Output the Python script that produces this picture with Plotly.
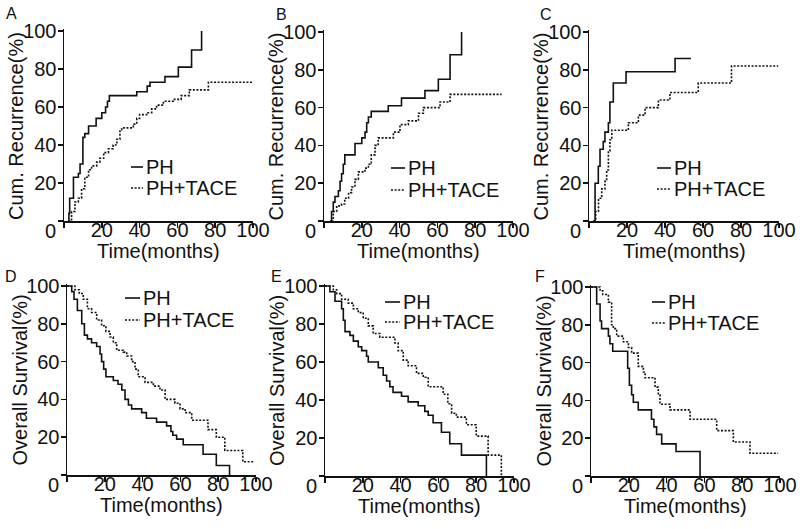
import plotly.graph_objects as go

# ---------------- data (months, %) ----------------
# A: cumulative recurrence
A_PH_t = [2.3, 2.6, 3, 5, 7.6, 8.5, 10, 11, 13, 17, 20, 22, 23, 24, 38.5, 44, 45.5, 53.4, 60.5, 67.5, 72.8]
A_PH_y = [0, 4, 12, 23, 25, 30, 44, 46, 50, 54, 57, 60, 63, 66, 68, 71, 73, 76, 81, 90, 100]
A_TA_t = [2.3, 4, 5.8, 7.6, 9.3, 11, 13, 14.6, 17.3, 19, 21, 23.5, 26, 28, 29.6, 30.5, 36.7, 38.5, 40,
          43.7, 46.4, 49, 52.6, 57.8, 62, 66.3, 76.4, 99.5]
A_TA_y = [0, 5, 10, 12, 17, 23, 27, 29, 31, 33, 36, 38, 40, 43, 48, 49, 51, 54, 56,
          57, 59, 61, 63, 64, 66, 69, 73, 73]

# B: cumulative recurrence
B_PH_t = [3.2, 4, 4.9, 5.8, 7.6, 8.5, 9.3, 10.2, 11, 16.4, 20, 21.7, 22.6, 23.5, 25, 34, 41, 53.4, 60.5, 66.7, 72.8]
B_PH_y = [0, 5, 10, 13, 16, 21, 25, 30, 35, 41, 44, 47, 52, 55, 58, 61, 65, 69, 75, 88, 100]
B_TA_t = [4, 4.9, 6.7, 9.3, 11, 13, 14.6, 16.4, 18.2, 21.7, 23.5, 25, 27, 28.7, 36.7, 40.2, 44.6, 50,
          52.6, 61.4, 66.7, 94]
B_TA_y = [0, 5, 8, 9, 12, 15, 18, 22, 26, 28, 30, 35, 40, 44, 47, 51, 53, 57,
          60, 63, 67, 67]

# C: cumulative recurrence
C_PH_t = [2.3, 3.2, 4.9, 5.8, 7.5, 8.4, 10.2, 11, 12.8, 19.5, 45.3, 53.7]
C_PH_y = [0, 20, 29, 38, 42, 47, 52, 63, 73, 79, 86, 86]
C_TA_t = [2.3, 3.5, 5, 6.7, 8.4, 9.3, 10.2, 11, 12, 20.7, 26, 29.5, 36.5, 42.6, 57.5, 75, 99.6]
C_TA_y = [0, 5, 12, 17, 21, 27, 37, 43, 48, 52, 56, 60, 64, 68, 73, 82, 82]

# D: overall survival
D_PH_t = [0, 2.5, 3.7, 5.5, 7.8, 9.2, 10.8, 13, 15.7, 17.5, 18.3, 19.4, 20.6, 24.5, 27, 29, 30.7, 32.5,
          34.2, 39.5, 42, 47.4, 52.7, 55, 56, 58, 61.5, 72, 79, 86]
D_PH_y = [100, 97, 93, 87, 80, 74, 72, 70, 68, 64, 60, 56, 52, 50, 48, 45, 40, 37,
          35, 33, 30, 28, 26, 23, 21, 19, 16, 11, 5, 0]
D_TA_t = [0, 4.2, 6.5, 8.6, 10.8, 13, 15.7, 18.3, 20.6, 22.8, 24.5, 26.3, 29.8, 31.6, 34.2, 36, 37.7,
          41.3, 45.7, 49.2, 51.9, 57.1, 59.8, 62.5, 66, 74.6, 79, 83.5, 93, 99]
D_TA_y = [100, 98, 96, 93, 88, 86, 82, 79, 76, 73, 70, 66, 65, 63, 60, 56, 52,
          49, 47, 45, 40, 38, 35, 33, 29, 24, 20, 13, 7, 7]

# E: overall survival
E_PH_t = [0, 2.6, 5.3, 8.8, 9.7, 10.6, 13.2, 15, 17.6, 19.4, 22, 22.9, 28.2, 30.8, 32.6, 34.3, 36,
          40.5, 44, 49.3, 52.8, 54.6, 57.2, 61.6, 66, 72.2, 85.4]
E_PH_y = [100, 97, 92, 88, 82, 76, 74, 71, 68, 66, 63, 60, 57, 53, 50, 47, 44,
          42, 39, 37, 34, 32, 28, 23, 17, 11, 0]
E_TA_t = [0, 4.4, 6.2, 8.8, 12.3, 15, 17.6, 20.2, 22.9, 25.5, 29, 37, 38.7, 41.4, 44, 48.4, 52, 54.6,
          62.5, 65, 67, 69.5, 74.8, 80, 86.3, 93.3]
E_TA_y = [100, 98, 96, 93, 91, 88, 86, 83, 79, 75, 73, 70, 66, 61, 58, 54, 52, 47,
          43, 38, 33, 31, 27, 21, 11, 0]

# F: overall survival
F_PH_t = [0, 3, 4.8, 5.6, 9.2, 10, 11.5, 19.4, 20.3, 21.5, 22.4, 25, 32, 33.3, 34.7, 37.4, 45, 57.7]
F_PH_y = [100, 91, 82, 78, 74, 70, 66, 57, 48, 43, 39, 35, 30, 26, 22, 17, 13, 0]
F_TA_t = [0, 4.8, 6.2, 9.2, 10.9, 11.8, 13.6, 17.1, 19.8, 21.5, 25, 27.7, 28.6, 33.9, 35.6, 36.5,
          41.8, 52.4, 66.5, 75.3, 84.1, 99]
F_TA_y = [100, 98, 96, 92, 80, 78, 74, 71, 68, 65, 58, 55, 52, 47, 43, 38,
          35, 30, 24, 18, 12, 12]

panels = [
    ("A", A_PH_t, A_PH_y, A_TA_t, A_TA_y, "Cum. Recurrence(%)"),
    ("B", B_PH_t, B_PH_y, B_TA_t, B_TA_y, "Cum. Recurrence(%)"),
    ("C", C_PH_t, C_PH_y, C_TA_t, C_TA_y, "Cum. Recurrence(%)"),
    ("D", D_PH_t, D_PH_y, D_TA_t, D_TA_y, "Overall Survival(%)"),
    ("E", E_PH_t, E_PH_y, E_TA_t, E_TA_y, "Overall Survival(%)"),
    ("F", F_PH_t, F_PH_y, F_TA_t, F_TA_y, "Overall Survival(%)"),
]
series_names = ["PH", "PH+TACE"]
x_ticks = [0, 20, 40, 60, 80, 100]
x_ticktext = ["", "20", "40", "60", "80", "100"]
y_ticks = [0, 20, 40, 60, 80, 100]
y_ticktext = ["", "20", "40", "60", "80", "100"]

# ---------------- layout geometry (pixels) ----------------
W, H = 800, 529
# (x0, x1, ytop(=100), ybottom(=0)) in pixels
boxes = [
    (64, 253, 31, 221), (324, 513, 32, 221), (589, 779, 32, 221),
    (67, 256, 286, 475), (325, 514, 286, 476), (591, 780, 287, 476),
]
# legend: (line x0, line x1, y PH, y PH+TACE)
legend_pos = [
    (131, 143, 167, 188), (391, 405, 168, 190), (657, 671, 168, 189),
    (125, 140, 298, 320), (385, 400, 302, 322), (652, 665, 302, 323),
]
letter_pos = [(11, 13), (281, 14), (546, 14), (11, 276), (276, 276), (540, 276)]

FONT = "Arial, 'Liberation Sans', Helvetica, sans-serif"
INK = "#111111"
YMAX = 101

fig = go.Figure()
layout = dict(
    template="none",
    width=W, height=H, margin=dict(l=0, r=0, t=0, b=0, pad=0, autoexpand=False),
    paper_bgcolor="white", plot_bgcolor="white", showlegend=False,
    font=dict(family=FONT, size=20, color=INK),
    annotations=[], shapes=[],
)

for i, (letter, pt, py, tt, ty, ytitle) in enumerate(panels):
    k = "" if i == 0 else str(i + 1)
    x0, x1, yt, yb = boxes[i]
    ppu = (yb - yt) / 100.0
    ytop_px = yb - YMAX * ppu
    fig.add_trace(go.Scatter(x=tt, y=ty, mode="lines", line_shape="hv", name=series_names[1],
                             line=dict(color=INK, width=1.6, dash="2px,1.6px"),
                             xaxis="x" + k, yaxis="y" + k, hoverinfo="skip"))
    fig.add_trace(go.Scatter(x=pt, y=py, mode="lines", line_shape="hv", name=series_names[0],
                             line=dict(color=INK, width=1.6),
                             xaxis="x" + k, yaxis="y" + k, hoverinfo="skip"))
    common = dict(showline=True, linecolor=INK, linewidth=1.5, ticks="outside", ticklen=5,
                  tickwidth=1.5, tickcolor=INK, showgrid=False, zeroline=False, automargin=False,
                  tickfont=dict(family=FONT, size=20, color=INK), fixedrange=True)
    layout["xaxis" + k] = dict(common, domain=[x0 / W, x1 / W], range=[0, 100],
                               tickvals=x_ticks, ticktext=x_ticktext, ticklabelstandoff=-15,
                               anchor="y" + k)
    layout["yaxis" + k] = dict(common, domain=[1 - yb / H, 1 - ytop_px / H], range=[0, YMAX],
                               tickvals=y_ticks, ticktext=y_ticktext, ticklabelstandoff=-3,
                               anchor="x" + k)
    # corner zero
    layout["annotations"].append(dict(text="0", x=(x0 - 14) / W, y=1 - (yb + 10) / H,
                                      xref="paper", yref="paper", showarrow=False,
                                      xanchor="center", yanchor="middle",
                                      font=dict(family=FONT, size=20, color=INK)))
    # axis titles
    layout["annotations"].append(dict(text="Time(months)", x=(x0 + x1) / 2 / W, y=1 - (yb + 30) / H,
                                      xref="paper", yref="paper", showarrow=False,
                                      xanchor="center", yanchor="middle",
                                      font=dict(family=FONT, size=20, color=INK)))
    layout["annotations"].append(dict(text=ytitle, x=(x0 - 48) / W, y=1 - (yt + yb) / 2 / H,
                                      xref="paper", yref="paper", showarrow=False, textangle=-90,
                                      xanchor="center", yanchor="middle",
                                      font=dict(family=FONT, size=20, color=INK)))
    # panel letter
    lx, ly = letter_pos[i]
    layout["annotations"].append(dict(text=letter, x=lx / W, y=1 - ly / H,
                                      xref="paper", yref="paper", showarrow=False,
                                      xanchor="center", yanchor="middle",
                                      font=dict(family=FONT, size=16, color=INK)))
    # legend
    lx0, lx1, ly1, ly2 = legend_pos[i]
    for name, ly_, dash in ((series_names[0], ly1, "solid"), (series_names[1], ly2, "2px,1.6px")):
        layout["shapes"].append(dict(type="line", xref="paper", yref="paper",
                                     x0=lx0 / W, x1=lx1 / W, y0=1 - ly_ / H, y1=1 - ly_ / H,
                                     line=dict(color=INK, width=1.6, dash=dash)))
        layout["annotations"].append(dict(text=name, x=(lx1 + 1) / W, y=1 - ly_ / H,
                                          xref="paper", yref="paper", showarrow=False,
                                          xanchor="left", yanchor="middle",
                                          font=dict(family=FONT, size=20, color=INK)))

fig.update_layout(**layout)
fig.write_html(
    "out.html",
    config={"displayModeBar": False, "staticPlot": True},
    post_script="document.body.style.margin='0';document.body.style.padding='0';"
                "document.documentElement.style.margin='0';",
)
